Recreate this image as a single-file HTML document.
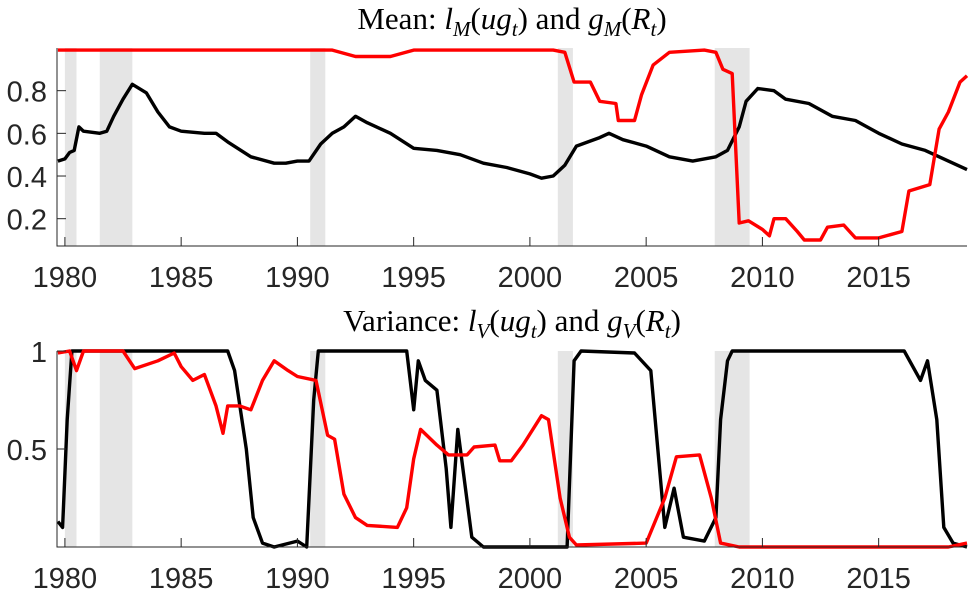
<!DOCTYPE html>
<html><head><meta charset="utf-8"><style>
body{margin:0;background:#fff}
svg{display:block}
.t{font-family:"Liberation Serif",serif;font-size:31px;fill:#000}
.k{font-family:"Liberation Sans",sans-serif;font-size:29px;fill:#262626}
</style></head><body>
<svg id="c" width="974" height="594"></svg>
<script>
const recessions=[[1980.0,1980.5],[1981.5,1982.9],[1990.55,1991.2],[2001.2,2001.85],[2007.95,2009.45]];
const xTicks=[1980,1985,1990,1995,2000,2005,2010,2015];
const topTicks=[0.2,0.4,0.6,0.8];
const botTicks=[0.5,1];
const lmYears=[1979.7,1980.0,1980.2,1980.4,1980.6,1980.8,1981.5,1981.8,1982.1,1982.5,1982.9,1983.5,1984.0,1984.5,1985,1986,1986.5,1987,1988,1989,1989.5,1990,1990.5,1991,1991.5,1992,1992.5,1993,1994,1995,1996,1997,1998,1999,2000,2000.5,2001,2001.5,2002,2002.5,2003,2003.4,2004,2005,2006,2007,2008,2008.5,2009,2009.3,2009.8,2010.5,2011,2012,2013,2014,2015,2016,2017,2018,2018.8];
const lmVals=[0.47,0.48,0.51,0.52,0.63,0.61,0.60,0.61,0.68,0.76,0.83,0.79,0.70,0.63,0.61,0.60,0.60,0.56,0.49,0.46,0.46,0.47,0.47,0.55,0.60,0.63,0.68,0.65,0.60,0.53,0.52,0.50,0.46,0.44,0.41,0.39,0.40,0.45,0.54,0.56,0.58,0.60,0.57,0.54,0.49,0.47,0.49,0.52,0.63,0.75,0.81,0.80,0.76,0.74,0.68,0.66,0.60,0.55,0.52,0.47,0.43];
const gmYears=[1979.7,1991.5,1992.5,1994,1995,2001.0,2001.5,2001.9,2002.6,2003,2003.7,2003.8,2004.5,2004.8,2005.3,2006,2007.5,2008.0,2008.3,2008.7,2009.0,2009.4,2010,2010.3,2010.5,2011,2011.5,2011.8,2012.5,2012.8,2013.5,2014,2015,2016,2016.3,2017.2,2017.6,2018,2018.5,2018.8];
const gmVals=[0.99,0.99,0.96,0.96,0.99,0.99,0.98,0.84,0.84,0.75,0.74,0.66,0.66,0.78,0.92,0.98,0.99,0.98,0.90,0.88,0.18,0.19,0.15,0.12,0.20,0.20,0.14,0.10,0.10,0.16,0.17,0.11,0.11,0.14,0.33,0.36,0.62,0.70,0.84,0.87];
const lvYears=[1979.7,1979.9,1980.1,1980.3,1987,1987.3,1987.8,1988.1,1988.5,1989,1990,1990.4,1990.7,1990.9,1994.7,1995.0,1995.2,1995.5,1996.0,1996.4,1996.6,1996.9,1997.5,1998,2001.6,2001.9,2002.2,2004.5,2005.2,2005.5,2005.8,2006.2,2006.6,2007.5,2008,2008.2,2008.5,2008.7,2016.1,2016.8,2017.1,2017.5,2017.8,2018.2,2018.8];
const lvVals=[0.13,0.10,0.65,1.0,1.0,0.9,0.50,0.15,0.02,0.0,0.03,0.0,0.75,1.0,1.0,0.70,0.95,0.85,0.80,0.40,0.10,0.60,0.05,0.0,0.0,0.95,1.0,0.99,0.90,0.50,0.10,0.30,0.05,0.03,0.15,0.65,0.95,1.0,1.0,0.85,0.95,0.65,0.10,0.02,0.0];
const gvYears=[1979.7,1980.2,1980.5,1980.8,1982.5,1983,1984,1984.7,1985,1985.5,1986,1986.5,1986.8,1987,1987.5,1988,1988.5,1989,1989.6,1990,1990.8,1991.3,1991.6,1992,1992.5,1993,1994.3,1994.7,1995.0,1995.3,1996,1996.5,1997.3,1997.6,1998.5,1998.7,1999.2,1999.7,2000.5,2000.8,2001.3,2001.7,2002,2005,2005.8,2006.3,2007.3,2007.8,2008.2,2009,2018,2018.8];
const gvVals=[0.99,1.0,0.90,1.0,1.0,0.91,0.95,0.99,0.92,0.85,0.88,0.72,0.58,0.72,0.72,0.70,0.85,0.95,0.90,0.87,0.85,0.57,0.55,0.27,0.15,0.11,0.10,0.20,0.45,0.60,0.52,0.47,0.47,0.51,0.52,0.44,0.44,0.52,0.67,0.65,0.25,0.05,0.01,0.02,0.25,0.46,0.47,0.25,0.02,0.0,0.0,0.02];

const svg=document.getElementById('c');const NS='http://www.w3.org/2000/svg';
function mk(t,a,p){const e=document.createElementNS(NS,t);for(const k in a)e.setAttribute(k,a[k]);(p||svg).appendChild(e);return e;}
const X0=57,X1=967,Y0=1979.66,Y1=2018.8;
const xs=v=>X0+(v-Y0)*(X1-X0)/(Y1-Y0);
function panel(name,top,bot,vmin,vmax,ticks,tfmt,series,title,titleY,labY){
  const g=mk('g',{});
  const ys=v=>bot-(v-vmin)*(bot-top)/(vmax-vmin);
  recessions.forEach(r=>{const e=mk('rect',{x:xs(r[0]),y:top,width:xs(r[1])-xs(r[0]),height:bot-top,fill:'#e5e5e5'},g);
    });
  series.forEach(s=>{const d=s.x.map((v,i)=>(i?'L':'M')+xs(v).toFixed(1)+','+ys(s.y[i]).toFixed(1)).join('');
    const e=mk('path',{d:d,fill:'none',stroke:s.c,'stroke-width':3.4,'stroke-linejoin':'round'},g);
    });
  const ax=mk('path',{d:`M${X0},${top}V${bot}H${X1}`,fill:'none',stroke:'#262626','stroke-width':1},g);
  
  xTicks.forEach(t=>{mk('line',{x1:xs(t),x2:xs(t),y1:bot,y2:bot-9,stroke:'#262626'},g);
    const e=mk('text',{x:xs(t),y:labY,'text-anchor':'middle',class:'k'},g);e.textContent=t;
    });
  ticks.forEach(t=>{mk('line',{x1:X0,x2:X0+9,y1:ys(t),y2:ys(t),stroke:'#262626'},g);
    const e=mk('text',{x:X0-10,y:ys(t)+11,'text-anchor':'end',class:'k'},g);e.textContent=tfmt(t);
    });
  const tt=mk('text',{x:512,y:titleY,'text-anchor':'middle',class:'t'},g);tt.innerHTML=title;
  
}
const S='font-style="italic" font-size="21" dy="7"';
panel('mean-panel',48,246,0.072,1.0,topTicks,t=>t.toFixed(1),
 [{x:lmYears,y:lmVals,c:'#000',n:'line-lM'},{x:gmYears,y:gmVals,c:'#ff0000',n:'line-gM'}],
 `Mean:  <tspan font-style="italic">l</tspan><tspan ${S}>M</tspan><tspan dy="-7">(</tspan><tspan font-style="italic">ug</tspan><tspan ${S}>t</tspan><tspan dy="-7">) and </tspan><tspan font-style="italic">g</tspan><tspan ${S}>M</tspan><tspan dy="-7">(</tspan><tspan font-style="italic">R</tspan><tspan ${S}>t</tspan><tspan dy="-7">)</tspan>`,29,287);
panel('variance-panel',351,547,0,1,botTicks,t=>String(t),
 [{x:lvYears,y:lvVals,c:'#000',n:'line-lV'},{x:gvYears,y:gvVals,c:'#ff0000',n:'line-gV'}],
 `Variance:  <tspan font-style="italic">l</tspan><tspan ${S}>V</tspan><tspan dy="-7">(</tspan><tspan font-style="italic">ug</tspan><tspan ${S}>t</tspan><tspan dy="-7">) and </tspan><tspan font-style="italic">g</tspan><tspan ${S}>V</tspan><tspan dy="-7">(</tspan><tspan font-style="italic">R</tspan><tspan ${S}>t</tspan><tspan dy="-7">)</tspan>`,331,588);
</script>
</body></html>
